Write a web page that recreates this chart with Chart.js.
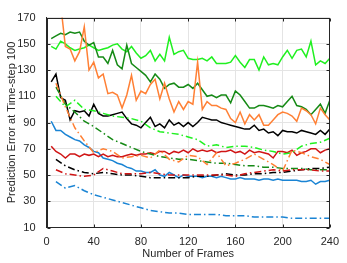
<!DOCTYPE html>
<html>
<head>
<meta charset="utf-8">
<script src="https://cdn.jsdelivr.net/npm/chart.js@4"></script>
<style>
  html, body { margin: 0; padding: 0; background: #fff; }
  canvas { display: block; }
</style>
</head>
<body>
<canvas id="chart" width="347" height="263"></canvas>
<script>
'use strict';

// ── Data ─────────────────────────────────────────────────────────────────────

const xTicks = [0, 40, 80, 120, 160, 200, 240];
const yTicks = [10, 30, 50, 70, 90, 110, 130, 150, 170];

// solid curves are sampled every 4 frames, dash-dot curves every 8
const frames = [4, 8, 12, 16, 20, 24, 28, 32, 36, 40, 44, 48, 52, 56, 60, 64, 68, 72, 76, 80,
  84, 88, 92, 96, 100, 104, 108, 112, 116, 120, 124, 128, 132, 136, 140, 144, 148, 152, 156, 160,
  164, 168, 172, 176, 180, 184, 188, 192, 196, 200, 204, 208, 212, 216, 220, 224, 228, 232, 236, 240];
const framesDashed = [8, 16, 24, 32, 40, 48, 56, 64, 72, 80, 88, 96, 104, 112, 120,
  128, 136, 144, 152, 160, 168, 176, 184, 192, 200, 208, 216, 224, 232, 240];

const limeSolid = [148, 146, 152, 150, 147, 145, 146, 147, 149, 147, 145, 146, 147, 149, 150, 146, 144, 148, 143, 139,
  141, 145, 137, 142, 137, 155, 142, 144, 145, 139, 138, 138, 139, 137, 140, 135, 135, 135, 136, 141,
  136, 132, 138, 138, 130, 140, 134, 135, 134, 140, 145, 139, 145, 146, 140, 152, 134, 137, 135, 139];
const greenSolid = [154, 156, 158, 157, 159, 158, 159, 152, 149, 151, 140, 140, 135, 145, 134, 131, 149, 135, 132, 129,
  126, 121, 127, 123, 116, 119, 120, 117, 117, 119, 116, 120, 115, 110, 111, 109, 111, 111, 105, 114,
  111, 106, 101, 101, 103, 103, 102, 101, 103, 102, 106, 110, 103, 102, 100, 96, 100, 104, 97, 107];
const orangeSolid = [215, 200, 180, 148, 146, 137, 144, 163, 130, 136, 124, 127, 112, 113, 111, 101, 111, 126, 107, 114,
  112, 119, 123, 108, 120, 108, 98, 106, 100, 106, 104, 136, 100, 106, 103, 103, 101, 100, 93, 90,
  98, 89, 96, 92, 96, 88, 88, 92, 96, 98, 97, 95, 91, 101, 99, 96, 89, 101, 96, 92];
const blackSolid = [121, 127, 109, 107, 92, 99, 98, 99, 95, 104, 97, 95, 95, 96, 97, 98, 93, 89, 88, 86,
  90, 94, 87, 89, 86, 92, 88, 90, 87, 90, 87, 90, 94, 93, 92, 92, 90, 89, 88, 87,
  86, 85, 85, 88, 84, 85, 82, 83, 80, 84, 83, 83, 82, 84, 83, 82, 81, 84, 81, 85];
const blueSolid = [91, 84, 84, 81, 79, 77, 76, 73, 71, 68, 67, 63, 62, 61, 59, 58, 56, 55, 53, 53,
  52, 52, 54, 50, 49, 52, 50, 48, 50, 49, 49, 49, 48, 49, 49, 48, 49, 48, 47, 47,
  48, 47, 47, 47, 46, 47, 47, 46, 47, 46, 46, 46, 46, 45, 45, 46, 43, 45, 45, 46];
const redSolid = [72, 68, 66, 63, 66, 66, 64, 66, 65, 66, 64, 66, 64, 65, 64, 64, 65, 66, 65, 66,
  66, 67, 66, 68, 68, 66, 68, 67, 69, 67, 70, 68, 69, 68, 69, 67, 68, 68, 69, 67,
  68, 66, 69, 67, 68, 67, 66, 63, 68, 68, 67, 69, 65, 67, 68, 70, 70, 67, 69, 70];

const limeDashed = [110, 102, 107, 100, 99, 97, 95, 94, 93, 91, 86, 83, 82, 81, 79,
  77, 72, 73, 71, 72, 72, 71, 69, 68, 66, 67, 72, 74, 75, 78];
const greenDashed = [117, 104, 98, 91, 87, 82, 77, 74, 71, 68, 66, 64, 63, 62, 62,
  61, 60, 59, 59, 58, 57, 57, 56, 56, 55, 55, 55, 54, 54, 54];
const orangeDashed = [120, 102, 86, 76, 67, 70, 68, 63, 64, 65, 63, 69, 62, 60, 65,
  64, 58, 67, 57, 59, 62, 66, 62, 58, 53, 69, 67, 64, 62, 58];
const blackDashed = [62, 57, 54, 52, 51, 52, 51, 50, 50, 49, 48, 48, 48, 48, 48,
  49, 49, 50, 51, 50, 50, 51, 51, 52, 52, 53, 54, 55, 55, 56];
const redDashed = [54, 51, 50, 49, 50, 55, 53, 51, 51, 51, 52, 51, 50, 50, 50,
  50, 50, 50, 50, 49, 51, 52, 53, 54, 53, 54, 54, 54, 53, 53];
const blueDashed = [45, 40, 42, 38, 35, 33, 31, 29, 27, 25, 23, 22, 21, 21, 20,
  20, 20, 20, 19, 19, 19, 18, 18, 18, 18, 17, 17, 17, 17, 17];

// ── Helpers ──────────────────────────────────────────────────────────────────

const INK = '#262626';
const DASH_DOT = [7, 3, 1.5, 3];

function line(xs, ys, color, dashed) {
  return {
    data: xs.map((x, i) => ({ x, y: ys[i] })),
    borderColor: color,
    borderWidth: 1.5,
    borderDash: dashed ? DASH_DOT : [],
    pointRadius: 0,
    tension: 0,
    fill: false,
  };
}

// box round the plot and MATLAB-style inward ticks on all four sides
const boxPlugin = {
  id: 'box',
  afterDraw(chart) {
    const { ctx, chartArea: a, scales: { x, y } } = chart;
    const L = Math.round(a.left) + 0.5, R = Math.round(a.right) - 0.5;
    const T = Math.round(a.top) + 0.5, B = Math.round(a.bottom) - 0.5;
    ctx.save();
    ctx.strokeStyle = INK;
    ctx.lineWidth = 1;
    ctx.strokeRect(L, T, R - L, B - T);
    ctx.beginPath();
    xTicks.forEach(v => {
      const px = Math.round(x.getPixelForValue(v)) + 0.5;
      ctx.moveTo(px, B); ctx.lineTo(px, B - 3);
      ctx.moveTo(px, T); ctx.lineTo(px, T + 3);
    });
    yTicks.forEach(v => {
      const py = Math.round(y.getPixelForValue(v)) + 0.5;
      ctx.moveTo(L, py); ctx.lineTo(L + 3, py);
      ctx.moveTo(R, py); ctx.lineTo(R - 3, py);
    });
    ctx.stroke();
    ctx.restore();
  },
};

// ── Chart ────────────────────────────────────────────────────────────────────

Chart.defaults.font.family = "'Liberation Sans', Arial, Helvetica, sans-serif";
Chart.defaults.font.size = 11;
Chart.defaults.color = INK;

new Chart(document.getElementById('chart').getContext('2d'), {
  type: 'line',
  data: {
    datasets: [
      line(framesDashed, blueDashed, '#1a84d4', true),
      line(framesDashed, redDashed, '#d01515', true),
      line(framesDashed, blackDashed, '#000000', true),
      line(framesDashed, orangeDashed, '#ff8035', true),
      line(framesDashed, greenDashed, '#168a16', true),
      line(framesDashed, limeDashed, '#20f020', true),
      line(frames, redSolid, '#d01515', false),
      line(frames, blueSolid, '#1a84d4', false),
      line(frames, blackSolid, '#000000', false),
      line(frames, orangeSolid, '#ff8035', false),
      line(frames, greenSolid, '#168a16', false),
      line(frames, limeSolid, '#20f020', false),
    ],
  },
  options: {
    responsive: false,
    animation: false,
    layout: { padding: { top: 7, right: 12, left: 0, bottom: 0 } },
    plugins: {
      legend: { display: false },
      tooltip: { enabled: false },
    },
    scales: {
      x: {
        type: 'linear',
        min: 0,
        max: 240,
        afterBuildTicks: s => { s.ticks = xTicks.map(v => ({ value: v })); },
        afterFit: s => { s.height = 35.5; },
        grid: { color: '#e4e4e4', drawTicks: false },
        border: { color: INK },
        ticks: { padding: 8, maxRotation: 0, color: INK },
        title: { display: true, text: 'Number of Frames', color: INK, padding: { top: 0, bottom: 2.4 } },
      },
      y: {
        type: 'linear',
        min: 10,
        max: 170,
        afterBuildTicks: s => { s.ticks = yTicks.map(v => ({ value: v })); },
        afterFit: s => { s.width = 46.5; },
        grid: { color: '#e4e4e4', drawTicks: false },
        border: { color: INK },
        ticks: { padding: 11, color: INK },
        title: { display: true, text: 'Prediction Error at Time-step 100', color: INK, padding: { top: 5.4, bottom: 0 } },
      },
    },
  },
  plugins: [boxPlugin],
});
</script>
</body>
</html>
